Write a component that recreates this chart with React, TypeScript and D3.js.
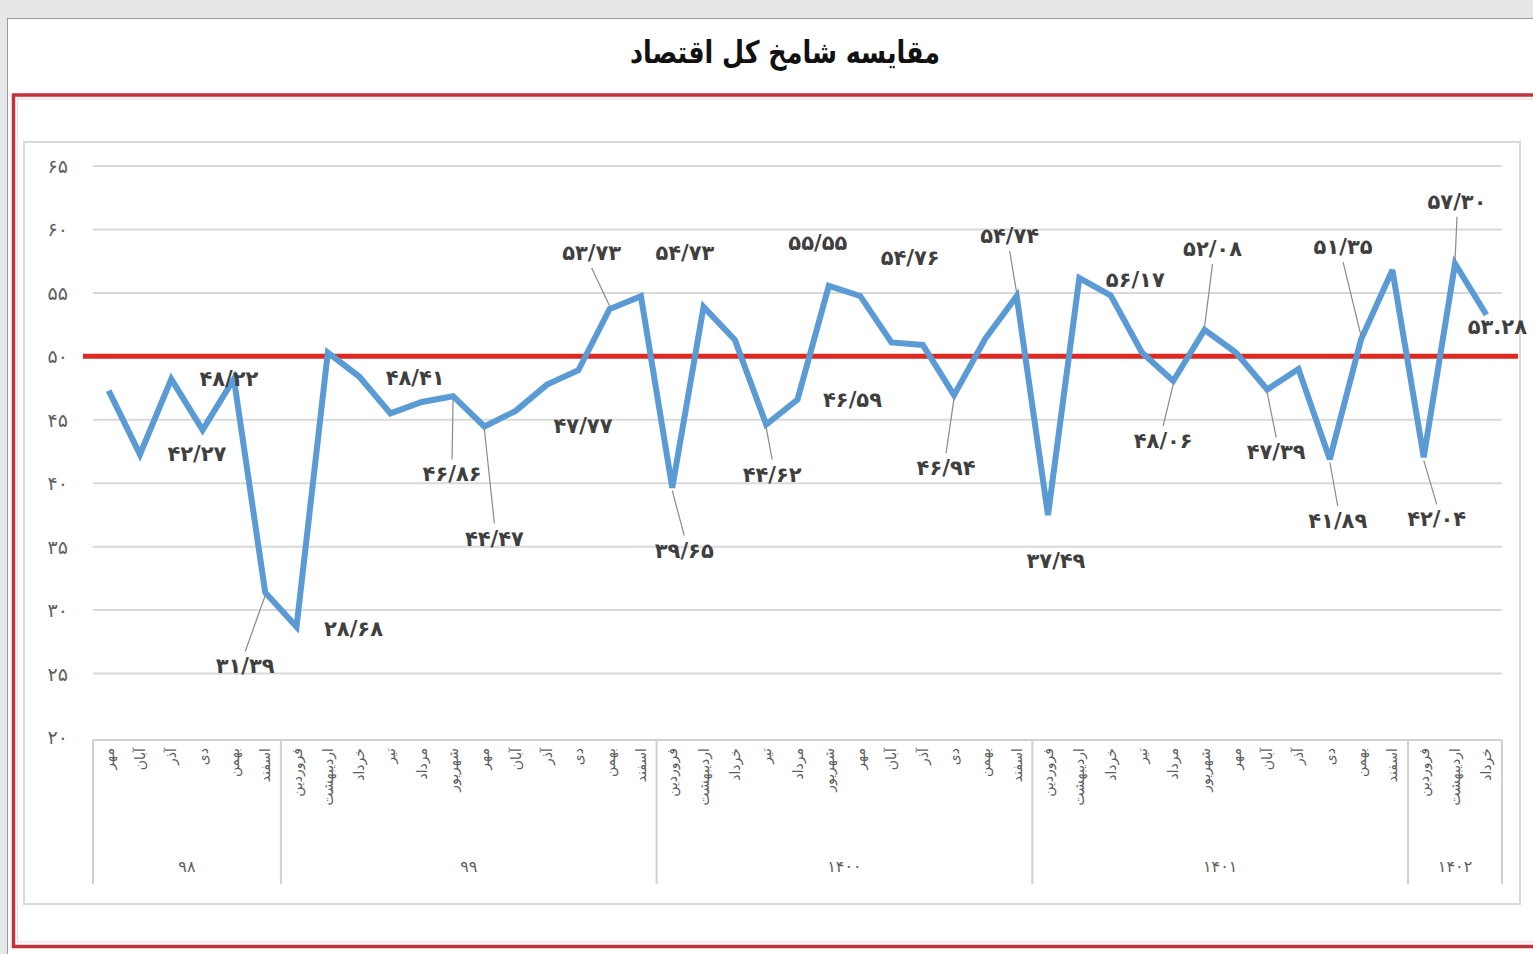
import React, { useEffect, useRef } from 'react';
import * as d3 from 'd3';

// داده‌ها - شامخ کل اقتصاد
const monthNames = ['فروردین', 'اردیبهشت', 'خرداد', 'تیر', 'مرداد', 'شهریور', 'مهر', 'آبان', 'آذر', 'دی', 'بهمن', 'اسفند'];
const yearLabels = ['۹۸', '۹۹', '۱۴۰۰', '۱۴۰۱', '۱۴۰۲'];
const months98 = monthNames.slice(6);
const months1402 = monthNames.slice(0, 3);
const yearMonths = [months98, monthNames, monthNames, monthNames, months1402];

const values98 = [47.3, 42.27, 48.2, 44.2, 48.22, 31.39];
const values99 = [28.68, 50.3, 48.41, 45.5, 46.4, 46.86, 44.47, 45.7, 47.77, 48.9, 53.73, 54.73];
const values1400 = [39.65, 53.9, 51.3, 44.62, 46.59, 55.55, 54.76, 51.1, 50.9, 46.94, 51.4, 54.74];
const values1401 = [37.49, 56.17, 54.8, 50.3, 48.06, 52.08, 50.3, 47.39, 49.0, 41.89, 51.35, 56.8];
const values1402 = [42.04, 57.3, 53.28];
const yearValues = [values98, values99, values1400, values1401, values1402];

const yTicks = [20, 25, 30, 35, 40, 45, 50, 55, 60, 65];
const threshold = 50;

// نقاطی که برچسب دارند (اندیس در کل سری)
const labelledPoints = [1, 4, 5, 6, 8, 11, 12, 14, 16, 17, 18, 21, 22, 23, 24, 27, 29, 30, 31, 34, 35, 37, 39, 40, 42, 43, 44];

// جای برچسب‌ها نسبت به نقطه: [dx, dy, خط راهنما]
const labelLayout = {
    1: [57, 0, false], 4: [-5, 0, false], 5: [-20, 74, true], 6: [57, 2, false],
    8: [56, 1, false], 11: [-1, 78, true], 12: [10, 112, true], 14: [36, 41, false],
    16: [-18, -56, true], 17: [44, -43, false], 18: [12, 63, true], 21: [6, 50, true],
    22: [55, 0, false], 23: [-11, -43, false], 24: [50, -38, false], 27: [-8, 73, true],
    29: [-7, -60, true], 30: [8, 46, false], 31: [56, 2, false], 34: [-10, 60, true],
    35: [8, -81, true], 37: [9, 63, true], 39: [8, 62, true], 40: [-18, -92, true],
    42: [13, 62, true], 43: [2, -62, true], 44: [11, 12, false]
};

const faDigits = '۰۱۲۳۴۵۶۷۸۹';
const toFa = (s) => String(s).replace(/[0-9]/g, (c) => faDigits[+c]);

const FONT = '"DejaVu Sans", sans-serif';

export default function App() {
    const ref = useRef(null);

    useEffect(() => {
        const width = 1533, height = 954;
        const svg = d3.select(ref.current);
        svg.selectAll('*').remove();

        // داده‌ی تخت
        const data = [];
        yearMonths.forEach((ms, gi) => {
            ms.forEach((m, mi) => {
                data.push({ key: gi + '-' + mi, month: m, year: gi, value: yearValues[gi][mi] });
            });
        });

        const plot = { left: 93, right: 1502, top: 166, bottom: 737 };

        const x = d3.scaleBand()
            .domain(data.map((d) => d.key))
            .range([plot.left, plot.right]);
        const y = d3.scaleLinear()
            .domain([20, 65])
            .range([plot.bottom, plot.top]);
        const cx = (d) => x(d.key) + x.bandwidth() / 2;

        // پس‌زمینه
        svg.append('rect').attr('width', width).attr('height', height).attr('fill', '#e6e7e9');
        svg.append('rect')
            .attr('x', 7.5).attr('y', 18.5)
            .attr('width', width).attr('height', height)
            .attr('fill', '#ffffff')
            .attr('stroke', '#9c9c9c');

        // عنوان
        svg.append('text')
            .attr('x', 785).attr('y', 52)
            .attr('text-anchor', 'middle')
            .attr('dominant-baseline', 'central')
            .attr('font-family', FONT)
            .attr('font-weight', 'bold')
            .attr('font-size', 31)
            .attr('textLength', 310)
            .attr('lengthAdjust', 'spacingAndGlyphs')
            .attr('fill', '#111')
            .text('مقایسه شامخ کل اقتصاد');

        // قاب قرمز
        svg.append('rect')
            .attr('x', 13.5).attr('y', 95)
            .attr('width', width).attr('height', 851.5)
            .attr('fill', 'none')
            .attr('stroke', '#c1323f')
            .attr('stroke-width', 3.5);
        svg.append('rect')
            .attr('x', 17.5).attr('y', 99)
            .attr('width', width).attr('height', 843)
            .attr('fill', 'none')
            .attr('stroke', '#f3d6d8')
            .attr('stroke-width', 1);

        // قاب نمودار
        svg.append('rect')
            .attr('x', 24).attr('y', 142)
            .attr('width', 1496).attr('height', 762)
            .attr('fill', '#ffffff')
            .attr('stroke', '#dadada')
            .attr('stroke-width', 2);

        const g = svg.append('g');

        // خطوط شبکه
        g.selectAll('.grid')
            .data(yTicks.filter((t) => t > 20))
            .enter()
            .append('line')
            .attr('x1', plot.left).attr('x2', plot.right)
            .attr('y1', (t) => y(t)).attr('y2', (t) => y(t))
            .attr('stroke', '#d9d9d9')
            .attr('stroke-width', 2);

        // برچسب محور عمودی
        g.selectAll('.ytick')
            .data(yTicks)
            .enter()
            .append('text')
            .attr('x', 68)
            .attr('y', (t) => y(t))
            .attr('text-anchor', 'end')
            .attr('dominant-baseline', 'central')
            .attr('font-family', FONT)
            .attr('font-size', 19)
            .attr('fill', '#5e5e5e')
            .text((t) => toFa(t));

        // محور دسته‌ها
        const axisTop = plot.bottom + 3, axisBottom = 884;
        g.append('line')
            .attr('x1', plot.left).attr('x2', plot.right)
            .attr('y1', axisTop).attr('y2', axisTop)
            .attr('stroke', '#d0d0d0').attr('stroke-width', 2);

        let start = 0;
        const groups = yearMonths.map((ms, gi) => {
            const first = data[start], last = data[start + ms.length - 1];
            start += ms.length;
            return { label: yearLabels[gi], x0: x(first.key), x1: x(last.key) + x.bandwidth() };
        });
        const bounds = [plot.left].concat(groups.map((gr) => gr.x1));
        g.selectAll('.sep')
            .data(bounds)
            .enter()
            .append('line')
            .attr('x1', (b) => b).attr('x2', (b) => b)
            .attr('y1', axisTop).attr('y2', axisBottom)
            .attr('stroke', '#d0d0d0').attr('stroke-width', 2);

        g.selectAll('.month')
            .data(data)
            .enter()
            .append('text')
            .attr('transform', (d) => 'translate(' + cx(d) + ',' + (axisTop + 8) + ') rotate(-90)')
            .attr('text-anchor', 'end')
            .attr('dominant-baseline', 'central')
            .attr('font-family', FONT)
            .attr('font-size', 14)
            .attr('fill', '#5e5e5e')
            .text((d) => d.month);

        g.selectAll('.year')
            .data(groups)
            .enter()
            .append('text')
            .attr('x', (d) => (d.x0 + d.x1) / 2)
            .attr('y', 866)
            .attr('text-anchor', 'middle')
            .attr('dominant-baseline', 'central')
            .attr('font-family', FONT)
            .attr('font-size', 16)
            .attr('fill', '#5e5e5e')
            .text((d) => d.label);

        // خط مرز ۵۰
        g.append('line')
            .attr('x1', 83).attr('x2', 1518)
            .attr('y1', y(threshold)).attr('y2', y(threshold))
            .attr('stroke', '#dc2a22')
            .attr('stroke-width', 5);

        // خط داده
        const line = d3.line()
            .x((d) => cx(d))
            .y((d) => y(d.value));
        g.append('path')
            .datum(data)
            .attr('d', line)
            .attr('fill', 'none')
            .attr('stroke', '#5b9bd5')
            .attr('stroke-width', 6)
            .attr('stroke-linejoin', 'miter')
            .attr('stroke-miterlimit', 3);

        // برچسب‌ها
        const labels = labelledPoints.map((i) => {
            const d = data[i];
            const [dx, dy, leader] = labelLayout[i];
            const sep = i === data.length - 1 ? '.' : '/';
            const txt = toFa(d.value.toFixed(2)).replace('.', sep);
            return { px: cx(d), py: y(d.value), lx: cx(d) + dx, ly: y(d.value) + dy, leader, txt };
        });

        g.selectAll('.leader')
            .data(labels.filter((l) => l.leader))
            .enter()
            .append('line')
            .attr('x1', (l) => l.px)
            .attr('y1', (l) => l.py + Math.sign(l.ly - l.py) * 3)
            .attr('x2', (l) => l.lx)
            .attr('y2', (l) => l.ly - Math.sign(l.ly - l.py) * 15)
            .attr('stroke', '#8a8a8a')
            .attr('stroke-width', 1.2);

        g.selectAll('.dlabel')
            .data(labels)
            .enter()
            .append('text')
            .attr('x', (l) => l.lx)
            .attr('y', (l) => l.ly)
            .attr('text-anchor', 'middle')
            .attr('dominant-baseline', 'central')
            .attr('font-family', FONT)
            .attr('font-weight', 'bold')
            .attr('font-size', 21)
            .attr('fill', '#3f3f3f')
            .text((l) => l.txt);
    }, []);

    return (
        <svg ref={ref} width={1533} height={954}
             style={{ position: 'absolute', left: 0, top: 0, display: 'block' }} />
    );
}
